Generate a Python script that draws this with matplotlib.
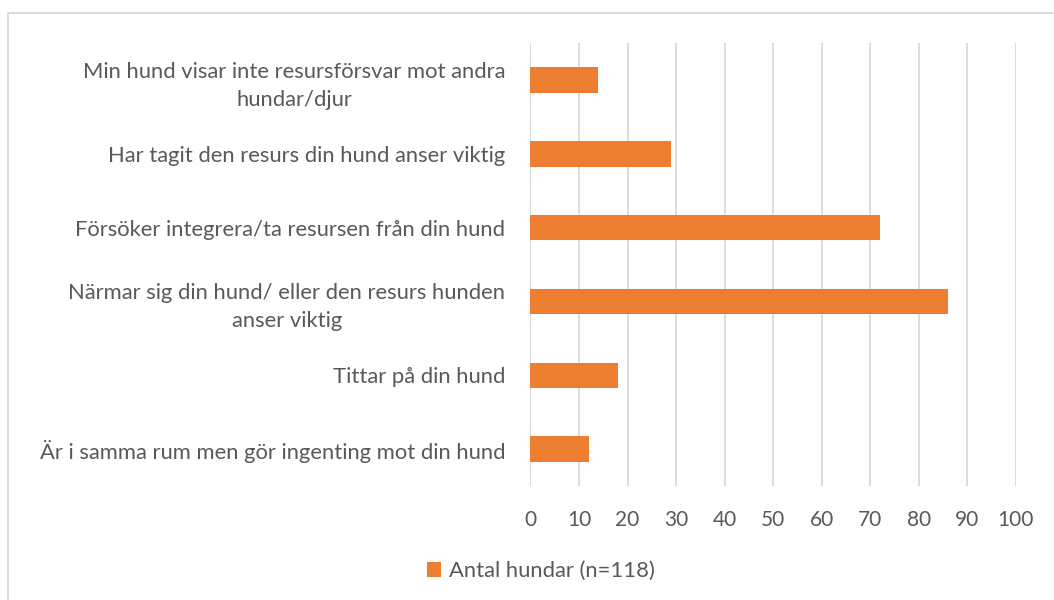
import matplotlib.pyplot as plt
from matplotlib.patches import Rectangle

# kategorier (nerifrån och upp, som i Excel)
kategorier = [
    'Är i samma rum men gör ingenting mot din hund',
    'Tittar på din hund',
    'Närmar sig din hund/ eller den resurs hunden\nanser viktig',
    'Försöker integrera/ta resursen från din hund',
    'Har tagit den resurs din hund anser viktig',
    'Min hund visar inte resursförsvar mot andra\nhundar/djur',
]
antal = [12, 18, 86, 72, 29, 14]
xticks = [0, 10, 20, 30, 40, 50, 60, 70, 80, 90, 100]
serienamn = 'Antal hundar (n=118)'

orange = '#ED7D31'
textfarg = '#595959'
grid = '#D9D9D9'

plt.rcParams['font.family'] = ['Lato', 'DejaVu Sans']

fig = plt.figure(figsize=(10.54, 6), dpi=100)
ax = fig.add_axes([0.5033, 0.19, 0.4606, 0.7383])

ax.barh(range(len(kategorier)), antal, height=0.345, color=orange, zorder=3, label=serienamn)
ax.set_xlim(0, 100)
ax.set_ylim(-0.5, len(kategorier) - 0.5)
ax.set_xticks(xticks)
ax.set_yticks(range(len(kategorier)))
ax.set_yticklabels(kategorier, multialignment='center', linespacing=1.5)
ax.tick_params(axis='y', length=0, pad=18, labelsize=15.8, labelcolor=textfarg)
ax.tick_params(axis='x', length=0, pad=17, labelsize=15, labelcolor=textfarg)
ax.grid(axis='x', color=grid, linewidth=1.3, zorder=0)
for s in ax.spines.values():
    s.set_visible(False)

fig.legend(loc='center', bbox_to_anchor=(0.513, 0.048), frameon=False,
           fontsize=15.8, labelcolor=textfarg, handlelength=0.65, handleheight=0.65,
           handletextpad=0.35)

fig.patches.append(Rectangle((8 / 1054, -0.1), 1.2, 1.1 - 13 / 600,
                             transform=fig.transFigure, fill=False,
                             edgecolor='#D9D9D9', linewidth=1.3))

fig.savefig('out.png', dpi=100)
